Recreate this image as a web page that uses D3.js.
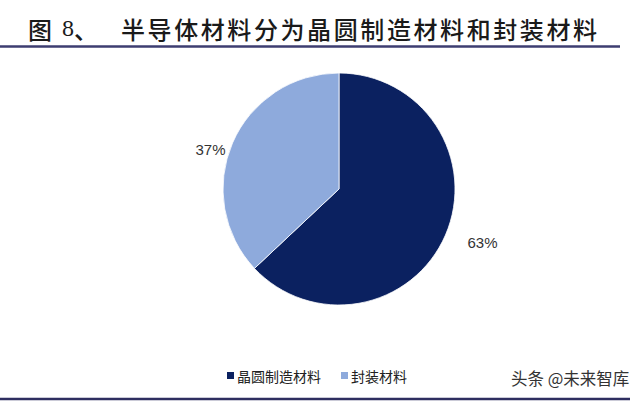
<!DOCTYPE html>
<html><head><meta charset="utf-8">
<script src="https://cdn.jsdelivr.net/npm/d3@7"></script>
<style>html,body{margin:0;padding:0;background:#fff;}svg{display:block;}</style>
</head><body>
<svg id="c" width="640" height="401"></svg>
<script>
const categories = ["晶圆制造材料", "封装材料"];
const values = [63, 37];
const labels = ["63%", "37%"];
const colors = ["#0b2160", "#8eaadc"];
const titleFig = "图";
const titleNum = "8、";
const titleMain = "半导体材料分为晶圆制造材料和封装材料";
const watermark = "头条 @未来智库";

const svg = d3.select("#c");
const W = 640, H = 401;
svg.append("rect").attr("width", W).attr("height", H).attr("fill", "#fff");

// Title
const tf = "'Noto Sans CJK SC', sans-serif";
const tg = svg.append("g").attr("font-family", tf).attr("font-size", 24).attr("fill", "#1a1a1a").attr("font-weight", 500);
tg.append("text").attr("x", 28).attr("y", 28).attr("dominant-baseline", "central").text(titleFig);
tg.append("text").attr("x", 62).attr("y", 28).attr("dominant-baseline", "central").attr("font-family", "'Liberation Serif', serif").text(titleNum.slice(0,1));
tg.append("text").attr("x", 74).attr("y", 28).attr("dominant-baseline", "central").text(titleNum.slice(1));
tg.append("text").attr("x", 121).attr("y", 28).attr("dominant-baseline", "central")
  .attr("textLength", 476).attr("lengthAdjust", "spacing").text(titleMain);
svg.append("line").attr("x1", 0).attr("x2", 620).attr("y1", 46.5).attr("y2", 46.5)
  .attr("stroke", "#3d3d70").attr("stroke-width", 2.5);
svg.append("line").attr("x1", 0).attr("x2", 630).attr("y1", 399).attr("y2", 399)
  .attr("stroke", "#2e2e60").attr("stroke-width", 2.5);

// Pie
const cx = 339, cy = 189, r = 116;
const pie = d3.pie().sort(null).value(d => d)(values);
const arc = d3.arc().innerRadius(0).outerRadius(r);
const g = svg.append("g").attr("transform", `translate(${cx},${cy})`);
g.selectAll("path").data(pie).join("path")
  .attr("d", arc).attr("fill", (d, i) => colors[i]).attr("stroke", "#fff").attr("stroke-width", 0.8);

const edge = d3.arc().innerRadius(r).outerRadius(r);
g.selectAll("text.lbl").data(pie).join("text").attr("class", "lbl")
  .each(function(d, i) {
    const [x, y] = edge.centroid(d);
    const right = x > 0;
    d3.select(this)
      .attr("x", right ? x + 22 : x - 7)
      .attr("y", y + 7)
      .attr("text-anchor", right ? "start" : "end");
  })
  .attr("dominant-baseline", "central")
  .attr("font-family", "'Liberation Sans', Arial, sans-serif")
  .attr("font-size", 15).attr("fill", "#333")
  .text((d, i) => labels[i]);

// Legend
const lf = "'Noto Sans CJK SC', sans-serif";
const legX = [227, 341];
const lg = svg.append("g").attr("font-family", lf).attr("font-size", 14).attr("fill", "#222");
categories.forEach((c, i) => {
  lg.append("rect").attr("x", legX[i]).attr("y", 372).attr("width", 7).attr("height", 7).attr("fill", colors[i]);
  lg.append("text").attr("x", legX[i] + 10).attr("y", 375.5).attr("dominant-baseline", "central").text(c);
});

// Watermark
svg.append("text").attr("x", 511).attr("y", 378).attr("dominant-baseline", "central")
  .attr("font-family", lf).attr("font-size", 16.5).attr("fill", "#333").text(watermark);
</script>
</body></html>
